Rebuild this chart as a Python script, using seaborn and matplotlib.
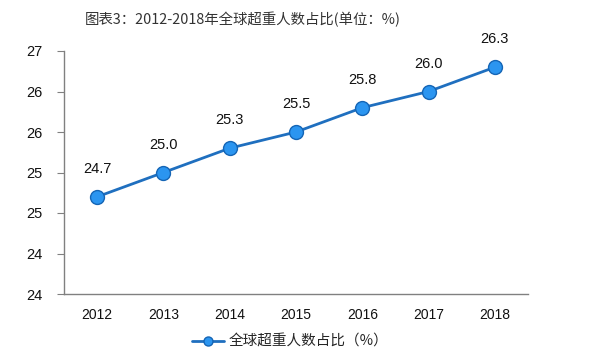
import math

import matplotlib

matplotlib.use("Agg")
import matplotlib.pyplot as plt
import pandas as pd
import seaborn as sns
from matplotlib.ticker import FixedLocator, FuncFormatter

# data
years = ["2012", "2013", "2014", "2015", "2016", "2017", "2018"]
share = [24.7, 25.0, 25.3, 25.5, 25.8, 26.0, 26.3]
series_name = "全球超重人数占比（%）"
title = "图表3：2012-2018年全球超重人数占比(单位：%)"

sns.set_style("white")
plt.rcParams["font.family"] = ["Liberation Sans", "Noto Sans CJK SC", "DejaVu Sans"]

df = pd.DataFrame({"year": years, "share": share})
df["pos"] = range(len(years))

fig = plt.figure(figsize=(6.0, 3.58), dpi=100)
ax = fig.add_axes([64 / 600, 1 - 294 / 358, 464 / 600, 243 / 358])

sns.lineplot(
    data=df, x="pos", y="share", ax=ax, color="#1f6fbf", linewidth=2,
    marker="o", markersize=10, markerfacecolor="#2b95f0",
    markeredgecolor="#1565b5", markeredgewidth=1.0, label=series_name,
)

for x, y in zip(df["pos"], df["share"]):
    ax.annotate(f"{y:.1f}", (x, y), xytext=(0, 15), textcoords="offset points",
                ha="center", va="bottom", fontsize=10.5, color="#111111")

# Excel-style axis: 23.5..26.5 step 0.5, labels rounded half-up to integers
ax.set_xlim(-0.5, len(years) - 0.5)
ax.set_ylim(23.5, 26.5)
ax.set_yticks([23.5 + 0.5 * i for i in range(7)])
ax.yaxis.set_major_formatter(FuncFormatter(lambda v, p: str(int(math.floor(v + 0.5)))))
ax.set_xticks(df["pos"])
ax.set_xticklabels(years)
ax.xaxis.set_minor_locator(FixedLocator([i - 0.5 for i in range(len(years) + 1)]))
ax.tick_params(axis="x", which="major", length=0, pad=10, labelsize=10, colors="#111111")
ax.tick_params(axis="x", which="minor", length=5, color="#808080", direction="out")
ax.tick_params(axis="y", length=5, color="#808080", direction="out", pad=22,
               labelsize=10.5, labelcolor="#111111", left=True)
for lbl in ax.get_yticklabels():
    lbl.set_horizontalalignment("left")
ax.set_xlabel("")
ax.set_ylabel("")

for side in ["top", "right"]:
    ax.spines[side].set_visible(False)
for side in ["left", "bottom"]:
    ax.spines[side].set_color("#808080")
    ax.spines[side].set_linewidth(1.0)

ax.legend(loc="center", bbox_to_anchor=(290 / 600, 16 / 358),
          bbox_transform=fig.transFigure, frameon=False,
          handlelength=2.2, handletextpad=0.3, markerscale=0.65,
          prop={"family": ["Noto Sans CJK SC"], "size": 10.5})

fig.text(243 / 600, 1 - 19 / 358, title, ha="center", va="center",
         fontsize=10.4, color="#333333", family=["Noto Sans CJK SC", "DejaVu Sans"])

fig.savefig("out.png", dpi=100)
